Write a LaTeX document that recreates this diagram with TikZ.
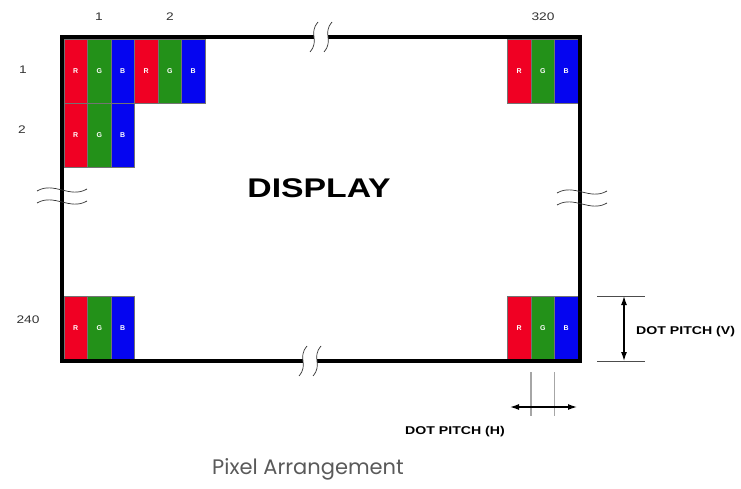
\documentclass[tikz,border=0pt]{standalone}
\usepackage{fontspec}
\setmainfont{Liberation Sans}
\newfontfamily\widesans[FakeStretch=1.25]{Liberation Sans}
\newfontfamily\captionsans{Poppins}
\usetikzlibrary{positioning,arrows.meta}

\definecolor{pxred}{RGB}{240,0,35}
\definecolor{pxgreen}{RGB}{35,145,25}
\definecolor{pxblue}{RGB}{5,5,240}
\definecolor{numgray}{RGB}{50,50,50}
\definecolor{capgray}{RGB}{90,90,90}

% one RGB dot: name, left, top
\newcommand{\rgbdot}[3]{%
  \node[subpix,fill=pxred,anchor=north west] (#1-r) at (#2,#3) {R};
  \node[subpix,fill=pxgreen,right=0pt of #1-r] (#1-g) {G};
  \node[subpix,fill=pxblue,right=0pt of #1-g] (#1-b) {B};}

% break marks on the frame
\newcommand{\vbreak}[2]{%
  \begin{scope}[shift={(#1,#2)}]
    \fill[white] (-2,-15) .. controls (-12,-3) and (0,3) .. (-10,15) -- (4,15) .. controls (14,3) and (2,-3) .. (12,-15) -- cycle;
    \draw[brk] (-2,-15) .. controls (-12,-3) and (0,3) .. (-10,15);
    \draw[brk] (12,-15) .. controls (2,-3) and (14,3) .. (4,15);
  \end{scope}}
\newcommand{\hbreak}[2]{%
  \begin{scope}[shift={(#1,#2)}]
    \draw[brk] (-25,-4) .. controls (-8,-14) and (8,4) .. (25,-6);
    \draw[brk] (-25,8) .. controls (-8,-2) and (8,16) .. (25,6);
  \end{scope}}

\begin{document}
\begin{tikzpicture}[x=1pt,y=-1pt,
    subpix/.style={minimum width=23.5pt,minimum height=64pt,inner sep=0pt,outer sep=0pt,draw=black!55,line width=0.4pt,text=white,font=\bfseries\fontsize{7}{7}\selectfont},
    frame/.style={line width=4pt},
    brk/.style={line width=0.7pt,black!80},
    num/.style={text=numgray,font=\widesans\fontsize{11}{11}\selectfont},
    pitch/.style={font=\widesans\bfseries\fontsize{11.3}{11.3}\selectfont},
    dim/.style={line width=1.3pt,{Latex[length=9pt,width=6pt]}-{Latex[length=9pt,width=6pt]}},
    ext/.style={line width=0.8pt,black!70},
    guide/.style={line width=1.2pt,black!35}]
  \useasboundingbox (0,0) rectangle (741,489);

  % pixels
  \rgbdot{p11}{64}{39}
  \rgbdot{p12}{134.5}{39}
  \rgbdot{p21}{64}{103}
  \rgbdot{tr}{507.5}{39}
  \rgbdot{bl}{64}{296}
  \rgbdot{br}{507.5}{296}

  \draw[frame] (62,37) rectangle (580,361);
  \vbreak{320}{37}
  \vbreak{309}{361}
  \hbreak{62}{195}
  \hbreak{582}{197}

  \node[font=\widesans\bfseries\fontsize{27}{27}\selectfont] (title) at (319,188) {DISPLAY};

  % column and row numbers
  \node[num] (col1) at (99,17) {1};
  \node[num] (col2) at (170,17) {2};
  \node[num] (col320) at (543,17) {320};
  \node[num] (row1) at (23,70) {1};
  \node[num] (row2) at (22,130) {2};
  \node[num] (row240) at (28,320) {240};

  % dot pitch (V)
  \coordinate (pv-top) at (624,296);
  \coordinate (pv-bot) at (624,361);
  \draw[ext] ([xshift=-27pt]pv-top) -- ([xshift=21pt]pv-top);
  \draw[ext] ([xshift=-27pt]pv-bot) -- ([xshift=21pt]pv-bot);
  \draw[dim] (pv-top) -- (pv-bot);
  \node[pitch,anchor=west,inner sep=0pt] (pv-label) at (636,332) {DOT PITCH (V)};

  % dot pitch (H)
  \draw[guide] ([yshift=-12pt]br-g.south west) -- ++(0,44);
  \draw[guide] ([yshift=-12pt]br-g.south east) -- ++(0,44);
  \coordinate (ph-l) at (510,407);
  \coordinate (ph-r) at (577,407);
  \draw[dim] (ph-l) -- (ph-r);
  \node[pitch] (ph-label) at (455,432) {DOT PITCH (H)};

  \node[text=capgray,font=\captionsans\fontsize{21}{21}\selectfont] (caption) at (308,469) {Pixel Arrangement};
\end{tikzpicture}
\end{document}
